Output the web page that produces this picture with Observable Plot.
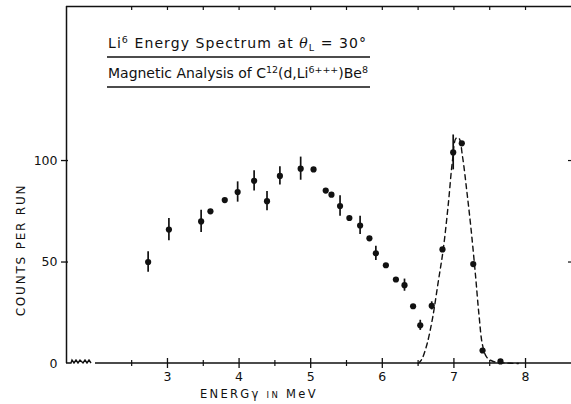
<!DOCTYPE html>
<html><head><meta charset="utf-8">
<script src="https://cdn.jsdelivr.net/npm/d3@7"></script>
<script src="https://cdn.jsdelivr.net/npm/@observablehq/plot@0.6"></script>
<style>
html,body{margin:0;padding:0;background:#fff;}
#chart svg{display:block;}
</style></head><body><div id="chart"></div>
<script>
// Measured Li6 energy spectrum (MeV, counts per run, statistical error; 0 = no bar drawn)
const energy = [2.73,3.02,3.47,3.60,3.80,3.98,4.21,4.39,4.57,4.86,5.04,5.21,5.29,5.41,5.54,5.69,5.82,5.91,6.05,6.19,6.31,6.43,6.53,6.69,6.84,6.99,7.11,7.27,7.40,7.65];
const counts = [50,66,70,75,80.5,84.5,90,80,92.4,96,95.6,85.2,83.2,77.6,71.7,68,61.7,54.3,48.4,41.4,38.6,28.2,18.8,28.4,56.2,104,108.5,49,6.4,1.0];
const errors = [5,5.5,5.5,0,0,5,5,4.7,4.5,5.7,0,0,0,5,0,4.5,0,3.5,0,0,3,0,2.5,2,0,8.6,0,0,0,0];
// Dashed resolution curve for the Be8 ground-state peak
const curveE = [6.50,6.55,6.62,6.70,6.78,6.85,6.92,6.98,7.03,7.07,7.12,7.18,7.24,7.30,7.35,7.40,7.46,7.55,7.70,7.90];
const curveC = [0,2,9,22,40,56,78,100,111,111,102,85,66,44,24,9,3,1,0.3,0];
// Axes
const xDomain = [1.59, 8.642];
const yDomain = [0, 175.9];
const majorX = [3,4,5,6,7,8];
const minorX = [2.5,3.5,4.5,5.5,6.5,7.5];
const topX = [2.5,3,3.5,4,4.5,5,5.5,6,6.5,7,7.5,8];
const yTicks = [0,50,100];
const yMarks = [50,100];
const xLabel = ["ENERG\u03B3 ", "IN", " MeV"];
const yLabel = "COUNTS PER RUN";

const FONT = "DejaVu Sans";
const INK = "#111";
const pts = energy.map((e,i)=>({e, c: counts[i], err: errors[i]}));
const bars = pts.filter(d=>d.err>0);
const curve = curveE.map((e,i)=>({e, c: curveC[i]}));

const chart = Plot.plot({
  width: 571, height: 404,
  marginLeft: 66, marginRight: 0, marginTop: 6, marginBottom: 41,
  x: {domain: xDomain}, y: {domain: yDomain},
  style: {fontFamily: FONT, fontSize: "12px", color: INK, background: "white"},
  marks: [
    Plot.axisX({ticks: majorX, tickFormat: "d", tickSize: 0, tickPadding: 9, label: null, fontSize: 12.5}),
    Plot.axisY({ticks: yTicks, tickFormat: "d", tickSize: 0, tickPadding: 9, label: null, fontSize: 12.5}),
    Plot.ruleX([xDomain[0]], {stroke: INK, strokeWidth: 1.5}),
    Plot.ruleY([yDomain[1]], {stroke: INK, strokeWidth: 1.5}),
    Plot.ruleX(majorX, {x: d=>d, y1: 0, y2: 0, insetTop: -5, insetBottom: -5, stroke: INK, strokeWidth: 1.3}),
    Plot.ruleX(minorX, {x: d=>d, y1: 0, y2: 0, insetTop: -3, insetBottom: -3, stroke: INK, strokeWidth: 1.2}),
    Plot.ruleX(topX, {x: d=>d, y1: yDomain[1], y2: yDomain[1], insetBottom: -4, stroke: INK, strokeWidth: 1.2}),
    Plot.ruleY(yMarks, {y: d=>d, x1: xDomain[0], x2: xDomain[0], insetLeft: -5, insetRight: -2, stroke: INK, strokeWidth: 1.3}),
    Plot.ruleY(yMarks, {y: d=>d, x1: xDomain[1], x2: xDomain[1], insetLeft: -3, stroke: INK, strokeWidth: 1.2}),
    Plot.line(curve, {x: "e", y: "c", curve: "catmull-rom", stroke: INK, strokeDasharray: "5,4", strokeWidth: 1.4}),
    Plot.ruleX(bars, {x: "e", y1: d=>d.c-d.err, y2: d=>d.c+d.err, stroke: INK, strokeWidth: 1.7}),
    Plot.dot(pts, {x: "e", y: "c", r: 3.1, fill: INK, stroke: null})
  ]
});
document.getElementById("chart").appendChild(chart);

const svg = d3.select(chart);
const sx = chart.scale("x"), sy = chart.scale("y");
const x0 = sx.apply(xDomain[0]), xEnd = sx.apply(xDomain[1]), y0 = sy.apply(0);

// baseline with axis-break zigzag
const p = d3.path();
p.moveTo(x0, y0); p.lineTo(x0+5, y0);
const zig = [[6,-3],[8,0],[10,-3],[12,0],[14,-3],[17,0],[19,-3],[21,0],[23,-3],[25,0]];
zig.forEach(([dx,dy])=>p.lineTo(x0+dx, y0+dy));
p.moveTo(x0+29, y0);
p.lineTo(xEnd, y0);
svg.append("path").attr("d", p.toString()).attr("fill","none").attr("stroke",INK).attr("stroke-width",1.4);

function rich(x, y, size, parts, width) {
  const t = svg.append("text").attr("x", x).attr("y", y).attr("font-family", FONT)
    .attr("font-size", size).attr("fill", INK).attr("text-anchor", "start");
  let base = 0;
  parts.forEach(([txt, kind]) => {
    const s = t.append("tspan").text(txt);
    let off = kind === "sup" ? -5 : kind === "sub" ? 3 : 0;
    s.attr("dy", off - base); base = off;
    if (kind === "sup" || kind === "sub") s.attr("font-size", size*0.68);
    if (kind === "it") s.attr("font-style", "italic").attr("font-family", "DejaVu Serif");
  });
  t.attr("textLength", width).attr("lengthAdjust", "spacing");
  return t;
}
rich(108, 48, 14, [["Li"],["6","sup"],[" Energy Spectrum at "],["\u03B8","it"],["L","sub"],[" = 30\u00B0"]], 258);
rich(108, 78, 14, [["Magnetic Analysis of C"],["12","sup"],["(d,Li"],["6+++","sup"],[")Be"],["8","sup"]], 260);
svg.append("line").attr("x1",107).attr("x2",370).attr("y1",57).attr("y2",57).attr("stroke",INK).attr("stroke-width",1.3);
svg.append("line").attr("x1",107).attr("x2",370).attr("y1",87).attr("y2",87).attr("stroke",INK).attr("stroke-width",1.3);

// axis titles
const xl = svg.append("text").attr("x", 200).attr("y", 398).attr("font-family", FONT)
  .attr("font-size", 11.5).attr("letter-spacing", 2.3).attr("fill", INK).attr("text-anchor", "start");
xl.append("tspan").text(xLabel[0]);
xl.append("tspan").attr("font-size", 8.5).text(xLabel[1]);
xl.append("tspan").text(xLabel[2]);
svg.append("text").attr("transform", "translate(25,250) rotate(-90)").attr("text-anchor","middle")
  .attr("font-family", FONT).attr("font-size", 12).attr("letter-spacing", 1.8).attr("fill", INK).text(yLabel);
</script></body></html>
